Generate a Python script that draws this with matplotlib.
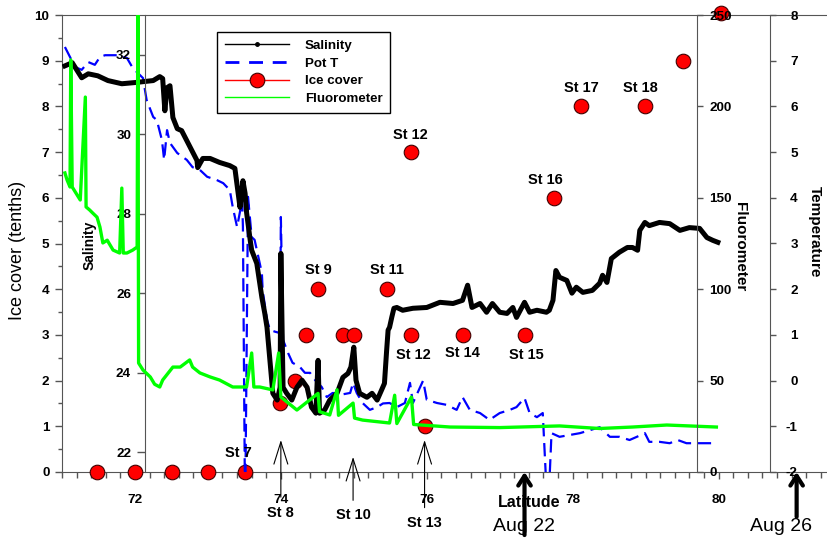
import matplotlib
matplotlib.use("Agg")
import matplotlib.pyplot as plt
from matplotlib.lines import Line2D
from matplotlib.ticker import MultipleLocator

# salinity along the track (latitude, psu)
sal_lat = [71.04, 71.14, 71.27, 71.36, 71.49, 71.63, 71.82, 72.00, 72.25, 72.34, 72.38, 72.41,
           72.44, 72.48, 72.52, 72.58, 72.64, 72.71, 72.78, 72.85, 72.86, 72.93, 73.03, 73.16,
           73.30, 73.37, 73.41, 73.44, 73.48, 73.51, 73.53, 73.58, 73.60, 73.67, 73.74, 73.78,
           73.81, 73.85, 73.89, 73.95, 73.99, 74.00, 74.03, 74.08, 74.15, 74.22, 74.29, 74.36,
           74.42, 74.48, 74.51, 74.53, 74.60, 74.67, 74.77, 74.85, 74.92, 74.96, 75.00, 75.03,
           75.08, 75.18, 75.25, 75.32, 75.38, 75.42, 75.45, 75.47, 75.49, 75.52, 75.55, 75.59,
           75.67, 75.81, 76.00, 76.18, 76.36, 76.49, 76.56, 76.62, 76.73, 76.82, 76.90, 77.00,
           77.10, 77.18, 77.23, 77.34, 77.41, 77.51, 77.64, 77.68, 77.73, 77.77, 77.82, 77.92,
           77.99, 78.05, 78.14, 78.27, 78.37, 78.41, 78.47, 78.53, 78.64, 78.75, 78.82, 78.89,
           78.92, 78.99, 79.05, 79.19, 79.33, 79.47, 79.60, 79.74, 79.84, 79.92, 79.99]
sal_val = [31.72, 31.80, 31.42, 31.52, 31.47, 31.35, 31.27, 31.30, 31.35, 31.45, 31.40, 30.59,
           31.17, 31.22, 30.42, 30.14, 30.09, 29.84, 29.59, 29.34, 29.16, 29.39, 29.39, 29.29,
           29.21, 29.14, 28.58, 28.16, 28.83, 28.51, 28.03, 27.33, 27.08, 26.75, 25.89, 25.49,
           25.14, 24.31, 23.48, 23.31, 23.63, 27.00, 23.63, 23.48, 23.31, 23.63, 23.81, 23.63,
           23.13, 22.98, 24.31, 22.98, 23.06, 23.31, 23.48, 23.88, 23.98, 24.14, 24.64, 23.81,
           23.48, 23.38, 23.48, 23.31, 23.56, 23.73, 24.56, 25.07, 25.14, 25.39, 25.62, 25.64,
           25.57, 25.62, 25.64, 25.77, 25.74, 25.82, 26.20, 25.64, 25.74, 25.52, 25.74, 25.52,
           25.49, 25.64, 25.39, 25.77, 25.52, 25.57, 25.52, 25.57, 25.82, 26.57, 26.40, 26.32,
           26.00, 26.15, 26.02, 26.07, 26.25, 26.45, 26.27, 26.87, 27.03, 27.15, 27.15, 27.08,
           27.58, 27.78, 27.70, 27.78, 27.75, 27.58, 27.65, 27.63, 27.40, 27.33, 27.28]

# potential temperature (latitude, deg C); -3 marks the two sensor dropouts
pot_lat = [71.04, 71.11, 71.18, 71.27, 71.36, 71.45, 71.52, 71.59, 71.75, 71.89, 71.97, 72.11,
           72.16, 72.25, 72.30, 72.37, 72.40, 72.44, 72.48, 72.58, 72.71, 72.79, 72.89, 72.99,
           73.12, 73.21, 73.30, 73.34, 73.40, 73.47, 73.48, 73.51, 73.55, 73.60, 73.64, 73.68,
           73.74, 73.75, 73.81, 73.85, 73.92, 73.99, 74.00, 74.03, 74.10, 74.16, 74.26, 74.33,
           74.40, 74.47, 74.56, 74.63, 74.71, 74.85, 74.95, 74.99, 75.04, 75.12, 75.22, 75.32,
           75.40, 75.49, 75.59, 75.70, 75.77, 75.81, 75.95, 76.00, 76.14, 76.27, 76.41, 76.49,
           76.59, 76.73, 76.86, 77.00, 77.14, 77.23, 77.34, 77.41, 77.51, 77.59, 77.66, 77.71,
           77.82, 77.96, 78.10, 78.37, 78.51, 78.64, 78.78, 78.88, 78.99, 79.05, 79.19, 79.33,
           79.44, 79.56, 79.74, 79.97]
pot_val = [7.30, 7.08, 6.86, 6.80, 6.97, 6.91, 7.08, 7.12, 7.12, 7.06, 6.84, 6.62,
           6.14, 5.77, 5.70, 5.26, 4.83, 5.48, 5.20, 4.98, 4.83, 4.67, 4.61, 4.46,
           4.39, 4.32, 4.17, 3.80, 3.36, 3.95, 3.36, -3.0, 4.02, 3.14, 3.08, 2.79,
           2.35, 1.98, 1.33, 1.11, 1.07, 1.04, 3.58, 0.89, 0.60, 0.39, 0.30, 0.17,
           0.17, 0.01, -0.14, -0.36, -0.27, -0.30, -0.27, -0.05, -0.27, -0.49, -0.64, -0.58,
           -0.50, -0.49, -0.58, -0.49, -0.05, -0.49, 0.00, -0.42, -0.49, -0.53, -0.64, -0.36,
           -0.64, -0.71, -0.86, -0.71, -0.64, -0.58, -0.38, -0.71, -0.80, -0.71, -3.0, -1.15,
           -1.23, -1.19, -1.15, -1.02, -1.23, -1.23, -1.30, -1.23, -1.15, -1.34, -1.34, -1.37,
           -1.30, -1.37, -1.37, -1.37]

# fluorometer (latitude, raw units)
flu_lat = [71.04, 71.07, 71.11, 71.12, 71.14, 71.25, 71.32, 71.33, 71.38, 71.42, 71.48, 71.52,
           71.56, 71.62, 71.70, 71.79, 71.82, 71.84, 71.89, 71.97, 72.03, 72.04, 72.05, 72.11,
           72.21, 72.27, 72.34, 72.38, 72.52, 72.62, 72.75, 72.79, 72.89, 73.03, 73.16, 73.34,
           73.53, 73.60, 73.63, 73.71, 73.89, 73.97, 74.00, 74.22, 74.51, 74.53, 74.67, 74.77,
           74.79, 74.99, 75.01, 75.12, 75.49, 75.56, 75.59, 75.79, 75.82, 76.32, 77.00, 77.82,
           78.37, 78.82, 79.29, 79.97]
flu_val = [163.6, 159.7, 155.9, 225.4, 155.9, 148.8, 205.1, 145.0, 143.3, 141.7, 139.4, 134.0,
           125.3, 126.8, 121.4, 119.8, 155.3, 119.8, 119.8, 121.4, 123.1, 260.0, 59.6, 55.8,
           52.0, 48.0, 46.5, 50.3, 57.4, 57.4, 61.3, 57.4, 54.2, 52.0, 50.3, 46.5,
           46.5, 65.1, 46.5, 46.5, 44.9, 65.1, 41.0, 33.9, 43.0, 33.0, 31.2, 45.0,
           31.0, 37.7, 29.5, 28.4, 26.8, 42.0, 26.5, 41.0, 26.0, 24.6, 24.3, 25.2,
           23.8, 24.6, 25.7, 24.6]

# ice cover observations (latitude, tenths)
ice_lat = [71.48, 72.00, 72.51, 73.00, 73.51, 73.99, 74.19, 74.34, 74.51, 74.85, 75.00, 75.45,
           75.78, 75.78, 75.97, 76.49, 77.34, 77.75, 78.12, 78.99, 79.51, 80.04]
ice_val = [0, 0, 0, 0, 0, 1.5, 2, 3, 4, 3, 3, 4, 7, 3, 1, 3, 3, 6, 8, 8, 9, 10.05]

# station labels (text, latitude, ice-scale height)
stations = [("St 7", 73.42, 0.42), ("St 9", 74.51, 4.42), ("St 11", 75.45, 4.42),
            ("St 12", 75.78, 7.37), ("St 12", 75.81, 2.56), ("St 14", 76.49, 2.60),
            ("St 15", 77.37, 2.56), ("St 16", 77.62, 6.39), ("St 17", 78.12, 8.40),
            ("St 18", 78.93, 8.40)]
# stations marked with an arrow below the axis (text, latitude, tip, tail, text height)
arrow_stations = [("St 8", 74.00, 0.70, -0.55, -0.90), ("St 10", 74.99, 0.33, -0.62, -0.94),
                  ("St 13", 75.97, 0.70, -0.78, -1.12)]
# dates (text, arrow latitude, tail, text latitude)
dates = [("Aug 22", 77.34, -1.38, 77.33), ("Aug 26", 81.07, -0.98, 80.85)]

plt.rcParams['font.family'] = ['Liberation Sans', 'DejaVu Sans']
plt.rcParams['font.weight'] = 'bold'
plt.rcParams['axes.unicode_minus'] = False
SPINE = '#555555'
FS = 9.7

fig = plt.figure(figsize=(8.28, 5.4), dpi=100)
ax = fig.add_axes([62 / 828, 68 / 540, 766 / 828, 457 / 540])
ax.set_xlim(71.0, 81.5)
ax.set_ylim(0, 10)
ax_t = ax.twinx()
ax_s = ax.twinx()
ax_f = ax.twinx()

for a in (ax, ax_t, ax_s, ax_f):
    for s in a.spines.values():
        s.set_visible(False)
        s.set_color(SPINE)
ax.spines['left'].set_visible(True)
ax.spines['bottom'].set_visible(True)
ax.spines['top'].set_visible(True)

# ice cover axis (left)
ax.yaxis.set_major_locator(MultipleLocator(1))
ax.yaxis.set_minor_locator(MultipleLocator(0.5))
ax.xaxis.set_major_locator(MultipleLocator(2))
ax.xaxis.set_minor_locator(MultipleLocator(0.2))
ax.tick_params(axis='y', which='major', length=5, width=1, color=SPINE, labelsize=FS, pad=4)
ax.tick_params(axis='y', which='minor', length=3, width=1, color=SPINE)
ax.tick_params(axis='x', which='major', length=5, width=1, color=SPINE, labelsize=FS, pad=11)
ax.tick_params(axis='x', which='minor', length=4, width=1, color=SPINE)
ax.set_xticks([72, 74, 76, 78, 80])
ax.plot(ice_lat, ice_val, linestyle='none', marker='o', markersize=10.5,
        markerfacecolor='#ff0000', markeredgecolor='#400000', markeredgewidth=0.8,
        clip_on=False, zorder=3)
fig.text(18 / 828, 1 - 250 / 540, 'Ice cover (tenths)', rotation=90, ha='center',
         va='center', fontsize=13, fontweight='normal')

# temperature axis
ax_t.set_ylim(-2, 8)
ax_t.spines['right'].set_visible(True)
ax_t.spines['right'].set_position(('axes', (770 - 62) / 766))
ax_t.set_yticks(range(-2, 9))
ax_t.tick_params(axis='y', length=4, width=1, color=SPINE, labelsize=FS, pad=16)
plt.setp(ax_t.get_yticklabels(), ha='right')
ax_t.plot(pot_lat, pot_val, color='#0000ff', lw=1.6, dashes=(6, 3))
fig.text(815 / 828, 1 - 232 / 540, 'Temperature', rotation=-90, ha='center', va='center',
         fontsize=11)

# salinity axis
ax_s.set_ylim(21.5, 33.0)
ax_s.spines['left'].set_visible(True)
ax_s.spines['left'].set_position(('axes', (145 - 62) / 766))
ax_s.yaxis.tick_left()
ax_s.set_yticks([22, 24, 26, 28, 30, 32])
ax_s.tick_params(axis='y', length=6, width=1, color=SPINE, labelsize=FS, pad=4)
ax_s.plot(sal_lat, sal_val, color='black', lw=3.6, solid_joinstyle='round')
ax_s.text((90 - 62) / 766, (472 - 245) / 457, 'Salinity', transform=ax_s.transAxes,
          rotation=90, ha='center', va='center', fontsize=10, zorder=0)

# fluorometer axis
ax_f.set_ylim(0, 250)
ax_f.spines['right'].set_visible(True)
ax_f.spines['right'].set_position(('axes', (697 - 62) / 766))
ax_f.set_yticks([0, 50, 100, 150, 200, 250])
ax_f.tick_params(axis='y', length=4, width=1, color=SPINE, labelsize=FS, pad=5)
ax_f.plot(flu_lat, flu_val, color='#00ff00', lw=2.4)
fig.text(740 / 828, 1 - 247 / 540, 'Fluorometer', rotation=-90, ha='center', va='center',
         fontsize=11)

# annotations live on the top axes so they sit above the data
top = ax_f
to_ice = ax.transData
for name, lat, h in stations:
    top.text(lat, h, name, transform=to_ice, ha='center', va='center', fontsize=10.5)
for name, lat, tip, tail, h in arrow_stations:
    top.annotate('', xy=(lat, tip), xytext=(lat, tail), xycoords=to_ice, textcoords=to_ice,
                 annotation_clip=False,
                 arrowprops=dict(arrowstyle='->,head_length=1.6,head_width=0.5', lw=0.8,
                                 color='black', shrinkA=0, shrinkB=0))
    top.text(lat, h, name, transform=to_ice, ha='center', va='center', fontsize=10.5,
             clip_on=False)
for name, lat, tail, tlat in dates:
    top.annotate('', xy=(lat, 0), xytext=(lat, tail), xycoords=to_ice, textcoords=to_ice,
                 annotation_clip=False,
                 arrowprops=dict(arrowstyle='->,head_length=0.7,head_width=0.45', lw=3,
                                 color='black', shrinkA=0, shrinkB=0))
    top.text(tlat, -1.2, name, transform=to_ice, ha='center', va='center', fontsize=14,
             fontweight='normal', clip_on=False)
top.text(77.41, -0.66, 'Latitude', transform=to_ice, ha='center', va='center',
         fontsize=11.5, clip_on=False)

handles = [
    Line2D([0], [0], color='black', lw=1, marker='o', markersize=2.5),
    Line2D([0], [0], color='#0000ff', lw=2, dashes=(5, 3.5)),
    Line2D([0], [0], color='#ff0000', lw=1, marker='o', markersize=10.5,
           markerfacecolor='#ff0000', markeredgecolor='#400000', markeredgewidth=0.8),
    Line2D([0], [0], color='#00ff00', lw=1),
]
leg = top.legend(handles, ['Salinity', 'Pot T', 'Ice cover', 'Fluorometer'],
                 loc='upper left', bbox_to_anchor=((210 - 62) / 766, (472 - 25) / 457),
                 numpoints=1, fontsize=9.6, handlelength=4.8, handletextpad=1.2,
                 labelspacing=0.4, borderpad=0.6, fancybox=False, framealpha=1)
leg.get_frame().set_edgecolor('black')
leg.get_frame().set_linewidth(1)

fig.savefig('out.png', dpi=100)
